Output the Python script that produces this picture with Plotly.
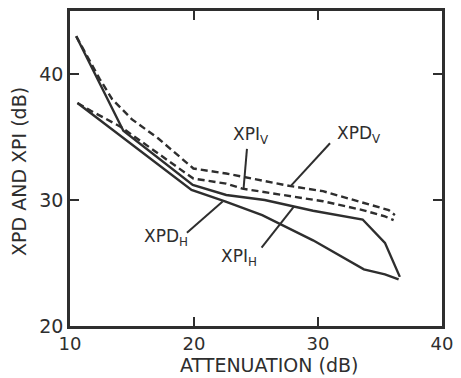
import plotly.graph_objects as go

# Cross-polarization discrimination / isolation versus path attenuation
xpd_v_x = [10.5, 11.3, 12.4, 13.4, 15.0, 17.1, 19.95, 22.6, 27.8, 30.4, 33.6, 35.7, 36.2]
xpd_v_y = [43.0, 41.6, 39.6, 38.0, 36.4, 34.9, 32.5, 32.1, 31.1, 30.7, 29.8, 29.2, 28.8]

xpi_v_x = [10.6, 11.65, 14.1, 17.1, 19.95, 22.6, 23.9, 30.4, 33.6, 35.4, 36.1]
xpi_v_y = [37.7, 37.1, 35.8, 33.7, 31.7, 31.3, 30.9, 29.9, 29.2, 28.7, 28.4]

xpi_h_x = [10.5, 14.3, 19.9, 22.6, 25.7, 29.6, 33.6, 35.4, 36.6]
xpi_h_y = [43.0, 35.5, 31.2, 30.4, 30.0, 29.15, 28.45, 26.6, 23.9]

xpd_h_x = [10.6, 19.8, 22.5, 25.5, 29.6, 33.7, 35.4, 36.5]
xpd_h_y = [37.7, 30.8, 29.9, 28.8, 26.8, 24.5, 24.1, 23.7]

# curve labels: text, text anchor (left, middle), leader start, leader end
labels = [
    ("XPI<sub>V</sub>", 22.96, 35.1, 24.27, 34.06, 24.0, 30.93),
    ("XPD<sub>V</sub>", 31.34, 35.2, 30.97, 34.5, 27.83, 31.14),
    ("XPD<sub>H</sub>", 15.81, 27.0, 19.43, 27.4, 22.31, 29.88),
    ("XPI<sub>H</sub>", 22.02, 25.45, 25.45, 26.22, 28.07, 29.49),
]

x_ticks = [10, 20, 30, 40]
y_ticks = [20, 30, 40]
x_title = "ATTENUATION (dB)"
y_title = "XPD AND XPI (dB)"

ink = "#2e2e2e"
font_family = "DejaVu Sans"

fig = go.Figure()
solid = dict(color=ink, width=2.4)
dashed = dict(color=ink, width=2.4, dash="7px,4px")

fig.add_trace(go.Scatter(x=xpd_v_x, y=xpd_v_y, mode="lines", line=dashed))
fig.add_trace(go.Scatter(x=xpi_v_x, y=xpi_v_y, mode="lines", line=dashed))
fig.add_trace(go.Scatter(x=xpi_h_x, y=xpi_h_y, mode="lines", line=solid))
fig.add_trace(go.Scatter(x=xpd_h_x, y=xpd_h_y, mode="lines", line=solid))

for text, tx, ty, x0, y0, x1, y1 in labels:
    fig.add_annotation(x=tx, y=ty, text=text, showarrow=False,
                       xanchor="left", yanchor="middle",
                       font=dict(size=17, color=ink, family=font_family))
    fig.add_shape(type="line", x0=x0, y0=y0, x1=x1, y1=y1,
                  line=dict(color=ink, width=2))

# axis titles placed as paper-referenced annotations
fig.add_annotation(x=0.534, y=-0.123, xref="paper", yref="paper", text=x_title,
                   showarrow=False, xanchor="center", yanchor="middle",
                   font=dict(size=19, color=ink, family=font_family))
fig.add_annotation(x=-0.139, y=0.49, xref="paper", yref="paper", text=y_title,
                   showarrow=False, xanchor="center", yanchor="middle", textangle=-90,
                   font=dict(size=19, color=ink, family=font_family))

axis_common = dict(
    showgrid=False, zeroline=False, showline=True, linecolor=ink, linewidth=2.6,
    mirror="ticks", ticks="inside", ticklen=9, tickwidth=2, tickcolor=ink,
    ticklabeloverflow="allow",
)

fig.update_layout(
    width=461, height=378,
    margin=dict(l=70, r=9, t=8, b=52),
    paper_bgcolor="white", plot_bgcolor="white",
    showlegend=False,
    xaxis=dict(range=[10, 40], tickvals=x_ticks,
               tickfont=dict(size=18, color=ink, family=font_family), **axis_common),
    yaxis=dict(range=[20, 45], tickvals=y_ticks,
               tickfont=dict(size=19, color=ink, family=font_family), **axis_common),
)

fig.write_html("out.html")
